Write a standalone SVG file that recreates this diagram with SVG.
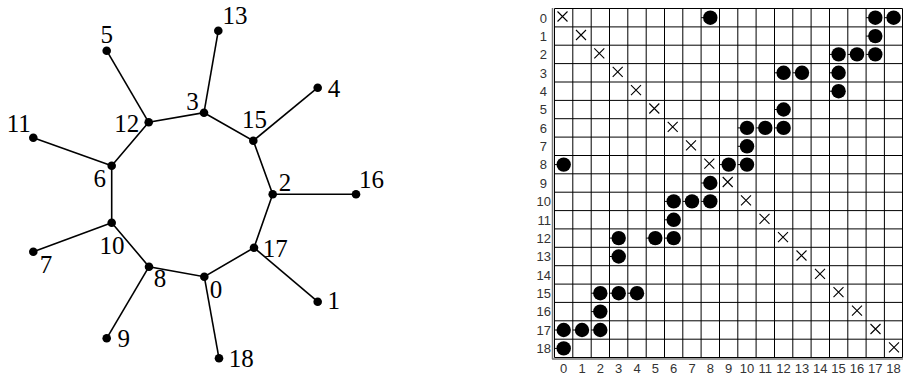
<svg xmlns="http://www.w3.org/2000/svg" xmlns:xlink="http://www.w3.org/1999/xlink" width="903" height="378" viewBox="0 0 903 378">
<style>
.edge{stroke:#000;stroke-width:1.6;fill:none}
.node{fill:#000}
.lbl{font-family:"Liberation Serif","Times New Roman",serif;font-size:25px;fill:#000;text-anchor:middle}
.grid{stroke:#000;stroke-width:1;fill:none}
.mlbl{font-family:"Liberation Sans",Arial,sans-serif;font-size:13px;fill:#333}
.rl{text-anchor:end}
.cl{text-anchor:middle}
.xm{stroke:#000;stroke-width:1.1;fill:none}
</style>
<defs>
<g id="dot"><line x1="-9.2" y1="0" x2="0" y2="0" stroke="#000" stroke-width="1"/><circle r="7.2" fill="#000"/></g>
<path id="xx" d="M-5,-5 L5,5 M5,-5 L-5,5"/>
</defs>
<rect width="903" height="378" fill="#fff"/>
<g id="connectors">
<path class="edge" d="M204,112.7 L253.3,140.7 L272.7,194.3 L254,247.7 L204.3,276.7 L149,266.7 L111.7,222.7 L111.7,165.7 L148.7,122.3 Z"/>
<line class="edge" x1="204" y1="112.7" x2="218.3" y2="30.7"/>
<line class="edge" x1="253.3" y1="140.7" x2="317.7" y2="87.7"/>
<line class="edge" x1="272.7" y1="194.3" x2="356" y2="194.3"/>
<line class="edge" x1="254" y1="247.7" x2="317.7" y2="301.7"/>
<line class="edge" x1="204.3" y1="276.7" x2="219" y2="358.3"/>
<line class="edge" x1="149" y1="266.7" x2="106.7" y2="338.3"/>
<line class="edge" x1="111.7" y1="222.7" x2="33.3" y2="251.7"/>
<line class="edge" x1="111.7" y1="165.7" x2="33.3" y2="137.7"/>
<line class="edge" x1="148.7" y1="122.3" x2="106.7" y2="50.7"/>
</g>
<g id="n0"><circle class="node" cx="204.3" cy="276.7" r="4.3"/><text class="lbl" x="216" y="297.7">0</text></g>
<g id="n1"><circle class="node" cx="317.7" cy="301.7" r="4.3"/><text class="lbl" x="333.7" y="309.3">1</text></g>
<g id="n2"><circle class="node" cx="272.7" cy="194.3" r="4.3"/><text class="lbl" x="285" y="190.7">2</text></g>
<g id="n3"><circle class="node" cx="204" cy="112.7" r="4.3"/><text class="lbl" x="192.5" y="110">3</text></g>
<g id="n4"><circle class="node" cx="317.7" cy="87.7" r="4.3"/><text class="lbl" x="334" y="96.7">4</text></g>
<g id="n5"><circle class="node" cx="106.7" cy="50.7" r="4.3"/><text class="lbl" x="106.7" y="42.7">5</text></g>
<g id="n6"><circle class="node" cx="111.7" cy="165.7" r="4.3"/><text class="lbl" x="99.7" y="186.7">6</text></g>
<g id="n7"><circle class="node" cx="33.3" cy="251.7" r="4.3"/><text class="lbl" x="46" y="272.7">7</text></g>
<g id="n8"><circle class="node" cx="149" cy="266.7" r="4.3"/><text class="lbl" x="160" y="287.3">8</text></g>
<g id="n9"><circle class="node" cx="106.7" cy="338.3" r="4.3"/><text class="lbl" x="123.7" y="347.3">9</text></g>
<g id="n10"><circle class="node" cx="111.7" cy="222.7" r="4.3"/><text class="lbl" x="112" y="254">10</text></g>
<g id="n11"><circle class="node" cx="33.3" cy="137.7" r="4.3"/><text class="lbl" x="18.7" y="131.7">11</text></g>
<g id="n12"><circle class="node" cx="148.7" cy="122.3" r="4.3"/><text class="lbl" x="126.7" y="131.7">12</text></g>
<g id="n13"><circle class="node" cx="218.3" cy="30.7" r="4.3"/><text class="lbl" x="235" y="24">13</text></g>
<g id="n15"><circle class="node" cx="253.3" cy="140.7" r="4.3"/><text class="lbl" x="254.5" y="128.3">15</text></g>
<g id="n16"><circle class="node" cx="356" cy="194.3" r="4.3"/><text class="lbl" x="371.5" y="188.3">16</text></g>
<g id="n17"><circle class="node" cx="254" cy="247.7" r="4.3"/><text class="lbl" x="275.3" y="257.3">17</text></g>
<g id="n18"><circle class="node" cx="219" cy="358.3" r="4.3"/><text class="lbl" x="241.3" y="366.7">18</text></g>

<g id="matrix">
<line x1="552.5" y1="8" x2="552.5" y2="359" stroke="#777" stroke-width="1.5"/>
<line x1="552" y1="359" x2="903" y2="359" stroke="#777" stroke-width="1.5"/>
<path class="grid" d="M554.5,8.5V357.5M572.8,8.5V357.5M591.2,8.5V357.5M609.5,8.5V357.5M627.8,8.5V357.5M646.2,8.5V357.5M664.5,8.5V357.5M682.8,8.5V357.5M701.1,8.5V357.5M719.5,8.5V357.5M737.8,8.5V357.5M756.1,8.5V357.5M774.5,8.5V357.5M792.8,8.5V357.5M811.1,8.5V357.5M829.5,8.5V357.5M847.8,8.5V357.5M866.1,8.5V357.5M884.4,8.5V357.5M902.5,8.5V357.5
M554.5,8.5H902.5M554.5,26.9H902.5M554.5,45.2H902.5M554.5,63.6H902.5M554.5,82H902.5M554.5,100.4H902.5M554.5,118.7H902.5M554.5,137.1H902.5M554.5,155.5H902.5M554.5,173.8H902.5M554.5,192.2H902.5M554.5,210.6H902.5M554.5,228.9H902.5M554.5,247.3H902.5M554.5,265.7H902.5M554.5,284.1H902.5M554.5,302.4H902.5M554.5,320.8H902.5M554.5,339.2H902.5M554.5,357.5H902.5"/>
<g class="mlbl rl">
<text x="547" y="22.5">0</text><text x="547" y="40.9">1</text><text x="547" y="59.2">2</text><text x="547" y="77.6">3</text><text x="547" y="96">4</text><text x="547" y="114.3">5</text><text x="547" y="132.7">6</text><text x="547" y="151.1">7</text><text x="547" y="169.4">8</text><text x="547" y="187.8">9</text><text x="551" y="206.2">10</text><text x="551" y="224.6">11</text><text x="551" y="242.9">12</text><text x="551" y="261.3">13</text><text x="551" y="279.7">14</text><text x="551" y="298">15</text><text x="551" y="316.4">16</text><text x="551" y="334.8">17</text><text x="551" y="353.2">18</text>
</g>
<g class="mlbl cl">
<text x="563.7" y="373">0</text><text x="582" y="373">1</text><text x="600.3" y="373">2</text><text x="618.7" y="373">3</text><text x="637" y="373">4</text><text x="655.3" y="373">5</text><text x="673.7" y="373">6</text><text x="692" y="373">7</text><text x="710.3" y="373">8</text><text x="728.7" y="373">9</text><text x="747" y="373">10</text><text x="765.3" y="373">11</text><text x="783.6" y="373">12</text><text x="802" y="373">13</text><text x="820.3" y="373">14</text><text x="838.6" y="373">15</text><text x="857" y="373">16</text><text x="875.3" y="373">17</text><text x="893.6" y="373">18</text>
</g>
<g class="xm">
<use xlink:href="#xx" x="562.5" y="16.5"/><use xlink:href="#xx" x="581" y="35"/><use xlink:href="#xx" x="599.3" y="53.4"/><use xlink:href="#xx" x="617.7" y="71.8"/><use xlink:href="#xx" x="636" y="90.2"/><use xlink:href="#xx" x="654.3" y="108.5"/><use xlink:href="#xx" x="672.7" y="126.9"/><use xlink:href="#xx" x="691" y="145.3"/><use xlink:href="#xx" x="709.3" y="163.6"/><use xlink:href="#xx" x="727.7" y="182"/><use xlink:href="#xx" x="746" y="200.4"/><use xlink:href="#xx" x="764.5" y="218.8"/><use xlink:href="#xx" x="783" y="237.1"/><use xlink:href="#xx" x="801.5" y="255.5"/><use xlink:href="#xx" x="820" y="273.9"/><use xlink:href="#xx" x="838.5" y="292.2"/><use xlink:href="#xx" x="857" y="310.6"/><use xlink:href="#xx" x="875.5" y="329"/><use xlink:href="#xx" x="894" y="347.4"/>
</g>
<g id="dots">
<use xlink:href="#dot" x="710.3" y="17.7"/><use xlink:href="#dot" x="875.3" y="17.7"/><use xlink:href="#dot" x="893.6" y="17.7"/>
<use xlink:href="#dot" x="875.3" y="36.1"/>
<use xlink:href="#dot" x="838.6" y="54.4"/><use xlink:href="#dot" x="857" y="54.4"/><use xlink:href="#dot" x="875.3" y="54.4"/>
<use xlink:href="#dot" x="783.6" y="72.8"/><use xlink:href="#dot" x="802" y="72.8"/><use xlink:href="#dot" x="838.6" y="72.8"/>
<use xlink:href="#dot" x="838.6" y="91.2"/>
<use xlink:href="#dot" x="783.6" y="109.5"/>
<use xlink:href="#dot" x="747" y="127.9"/><use xlink:href="#dot" x="765.3" y="127.9"/><use xlink:href="#dot" x="783.6" y="127.9"/>
<use xlink:href="#dot" x="747" y="146.3"/>
<use xlink:href="#dot" x="563.7" y="164.6"/><use xlink:href="#dot" x="728.7" y="164.6"/><use xlink:href="#dot" x="747" y="164.6"/>
<use xlink:href="#dot" x="710.3" y="183"/>
<use xlink:href="#dot" x="673.7" y="201.4"/><use xlink:href="#dot" x="692" y="201.4"/><use xlink:href="#dot" x="710.3" y="201.4"/>
<use xlink:href="#dot" x="673.7" y="219.8"/>
<use xlink:href="#dot" x="618.7" y="238.1"/><use xlink:href="#dot" x="655.3" y="238.1"/><use xlink:href="#dot" x="673.7" y="238.1"/>
<use xlink:href="#dot" x="618.7" y="256.5"/>
<use xlink:href="#dot" x="600.3" y="293.2"/><use xlink:href="#dot" x="618.7" y="293.2"/><use xlink:href="#dot" x="637" y="293.2"/>
<use xlink:href="#dot" x="600.3" y="311.6"/>
<use xlink:href="#dot" x="563.7" y="330"/><use xlink:href="#dot" x="582" y="330"/><use xlink:href="#dot" x="600.3" y="330"/>
<use xlink:href="#dot" x="563.7" y="348.4"/>
</g>
</g>
</svg>
